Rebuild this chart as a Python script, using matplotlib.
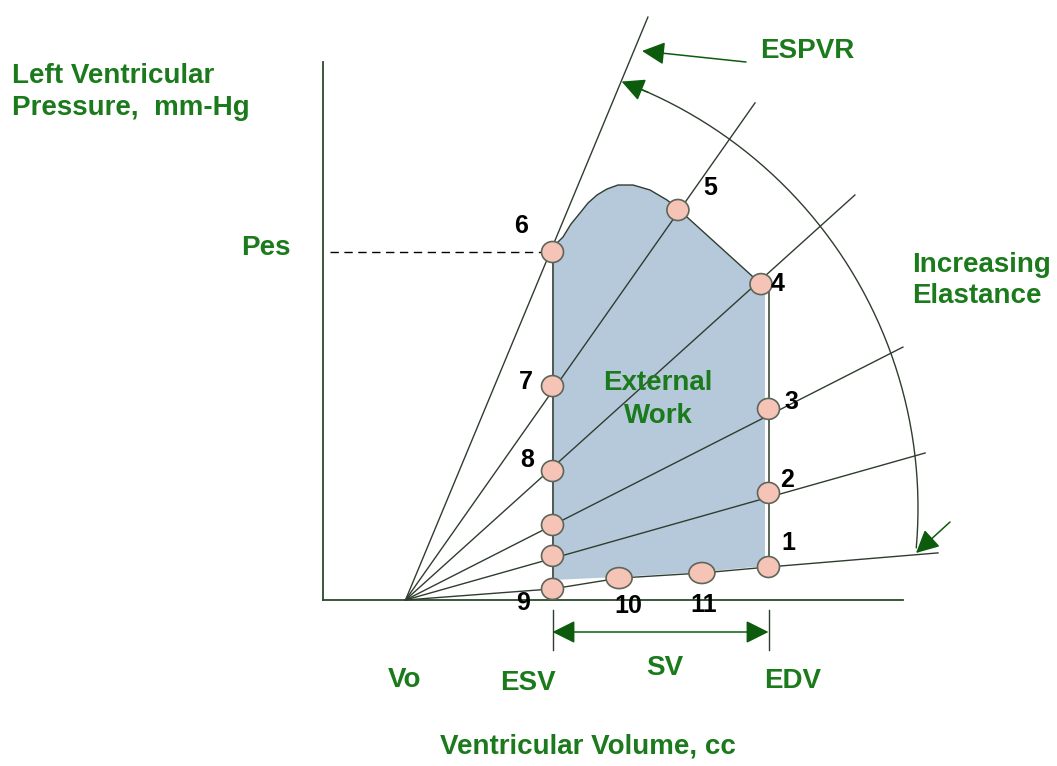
import numpy as np
import matplotlib
matplotlib.use("Agg")
import matplotlib.pyplot as plt
from matplotlib.patches import Polygon, Ellipse

# ---------------- data (volume in cc-like units, pressure in mmHg-like units) -------------
v0 = 27.5          # Vo, volume intercept
esv = 76.5         # end-systolic volume
edv = 148.5        # end-diastolic volume
pes = 116.0        # end-systolic pressure

point_labels = ['1', '2', '3', '4', '5', '6', '7', '8', '9', '10', '11']
point_vol = [148.5, 148.5, 148.5, 146.0, 118.3, 76.5, 76.5, 76.5, 76.5, 98.7, 126.3]
point_prs = [11.0, 35.7, 63.7, 105.3, 130.0, 116.0, 71.3, 43.0, 3.7, 7.3, 9.0]

extra_vol = [76.5, 76.5]
extra_prs = [25.0, 14.7]

# isochrone (elastance) lines from Vo: end points
iso_end_vol = [108.3, 144.0, 177.3, 193.3, 200.7]
iso_end_prs = [194.3, 165.7, 135.0, 84.3, 49.0]

# EDPVR-like bottom line: Vo -> 9 -> 10 -> 11 -> 1 -> end
edp_vol = [27.5, 76.5, 98.7, 126.3, 148.5, 205.0]
edp_prs = [0.0, 3.7, 7.3, 9.0, 11.0, 15.7]

# pressure-volume loop (shaded external work)
loop_vol = [76.33, 76.33, 77.67, 80.0, 82.67, 85.67, 88.33, 91.33, 94.67, 98.33,
            103.33, 109.0, 114.67, 118.0, 146.0, 147.33, 147.33, 126.33, 98.67]
loop_prs = [6.67, 116.67, 118.67, 121.0, 125.33, 129.0, 132.33, 135.0, 137.0, 138.33,
            138.33, 136.67, 133.33, 130.67, 105.3, 105.3, 11.33, 9.33, 7.67]

# ---------------- layout / style -------------------------------------------------------
PX = 3.0  # pixels per unit
W, H = 1057, 766
X0, Y0 = 323, 600   # pixel location of the axes origin

fig = plt.figure(figsize=(W / 100, H / 100), dpi=100)
ax = fig.add_axes([0, 0, 1, 1])
ax.set_xlim(-X0 / PX, (W - X0) / PX)
ax.set_ylim((Y0 - H) / PX, Y0 / PX)
ax.axis('off')

def u(px, py):
    """pixel position -> data units (for layout of annotations only)"""
    return ((px - X0) / PX, (Y0 - py) / PX)

GREEN = '#1b7a1b'
DKGREEN = '#0d5c0d'
LINE = '#2f3d2f'
AXC = '#2b4a2b'
FONT = 'Liberation Sans'

# shaded loop
ax.add_patch(Polygon(list(zip(loop_vol, loop_prs)), closed=True,
                     facecolor='#b5c9db', edgecolor='none', zorder=1))
# outline of the ejection phase (top of loop)
ax.plot(loop_vol[1:15], loop_prs[1:15], color=LINE, lw=1.0, zorder=3)

# axes lines
ax.plot([0, 0], [0, u(0, 62)[1]], color=AXC, lw=1.3, zorder=2)
ax.plot([0, u(903, 0)[0]], [0, 0], color=AXC, lw=1.3, zorder=2)

# ESPVR and isochrones from Vo
for ve, pe in zip(iso_end_vol, iso_end_prs):
    ax.plot([v0, ve], [0, pe], color=LINE, lw=1.0, zorder=3)
ax.plot(edp_vol, edp_prs, color=LINE, lw=1.0, zorder=3)

# loop vertical edges
ax.plot([esv, esv], [3.7, pes], color=LINE, lw=1.1, zorder=3)
ax.plot([edv, edv], [11.0, 105.3], color=LINE, lw=1.1, zorder=3)

# dashed Pes line
ax.plot([u(330, 0)[0], u(545, 0)[0]], [pes, pes], color='black', lw=1.0,
        ls=(0, (6, 4)), zorder=3)

# increasing elastance arc
cx, cy = u(463, 508)
r = 455 / PX
th = np.radians(np.linspace(-5.0, 67.0, 200))
ax.plot(cx + r * np.cos(th), cy + r * np.sin(th), color=LINE, lw=1.0, zorder=3)
t1, t2 = np.radians(66.0), np.radians(69.6)
aprops = dict(arrowstyle='-|>,head_length=0.7,head_width=0.35', color=DKGREEN,
              lw=1.1, mutation_scale=20, shrinkA=0, shrinkB=0)
ax.annotate('', xy=(cx + r * np.cos(t2), cy + r * np.sin(t2)),
            xytext=(cx + r * np.cos(t1), cy + r * np.sin(t1)), arrowprops=aprops, zorder=5)
# lower arrow of arc
ax.annotate('', xy=u(916, 553), xytext=u(950, 522), arrowprops=aprops, zorder=5)
# ESPVR pointer
ax.annotate('', xy=u(642, 51), xytext=u(746, 62),
            arrowprops=dict(aprops, color=DKGREEN), zorder=5)

# SV double arrow and ticks
sv_y = u(0, 632)[1]
ax.annotate('', xy=(edv, sv_y), xytext=(esv, sv_y),
            arrowprops=dict(arrowstyle='<|-|>,head_length=0.7,head_width=0.35',
                            color=DKGREEN, lw=1.1, mutation_scale=20,
                            shrinkA=0, shrinkB=0), zorder=5)
for vv in (esv, edv):
    ax.plot([vv, vv], [u(0, 610)[1], u(0, 650)[1]], color=LINE, lw=1.0, zorder=3)

# markers
for i, (vv, pp) in enumerate(zip(point_vol + extra_vol, point_prs + extra_prs)):
    wdt = 26 / PX if i in (9, 10) else 22 / PX
    ax.add_patch(Ellipse((vv, pp), wdt, 21 / PX, facecolor='#f5c4b6',
                         edgecolor='#5e665a', lw=1.2, zorder=6))

# number labels (offsets in pixels)
label_off = {'1': (20, 24), '2': (19, 13), '3': (23, 7), '4': (17, 0), '5': (32, 22),
             '6': (-31, 26), '7': (-27, 4), '8': (-25, 11), '9': (-29, -14),
             '10': (9, -28), '11': (2, -32)}
for lab, vv, pp in zip(point_labels, point_vol, point_prs):
    ax.annotate(lab, xy=(vv, pp), xytext=label_off[lab], textcoords='offset pixels',
                ha='center', va='center', fontsize=18, fontweight='bold',
                family=FONT, color='black', zorder=7)

# green texts
def gtext(px, py, s, ha='left'):
    x, y = u(px, py)
    ax.text(x, y, s, ha=ha, va='baseline', fontsize=20, fontweight='bold',
            family=FONT, color=GREEN, zorder=7)

gtext(12, 83, 'Left Ventricular')
gtext(12, 115, 'Pressure,  mm-Hg')
gtext(266, 255, 'Pes', 'center')
gtext(760, 58, 'ESPVR')
gtext(912, 272, 'Increasing')
gtext(912, 303, 'Elastance')
gtext(658, 390, 'External', 'center')
gtext(658, 423, 'Work', 'center')
gtext(405, 687, 'Vo', 'center')
gtext(528, 690, 'ESV', 'center')
gtext(665, 675, 'SV', 'center')
gtext(793, 688, 'EDV', 'center')
gtext(588, 754, 'Ventricular Volume, cc', 'center')

fig.savefig('out.png', dpi=100, facecolor='white')
